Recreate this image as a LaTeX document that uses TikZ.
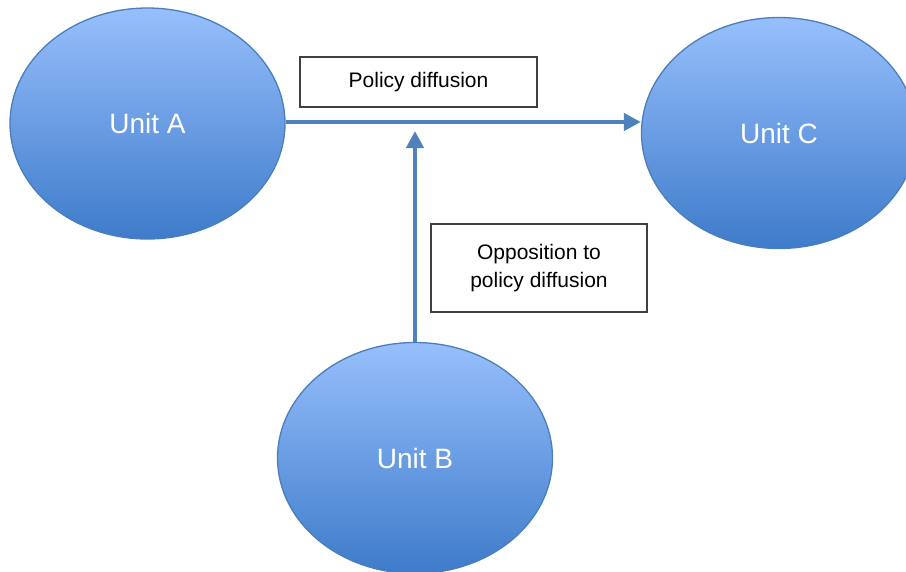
\documentclass[tikz,border=0pt]{standalone}
\usepackage{fontspec}
\setmainfont{Liberation Sans}
\usetikzlibrary{shapes.geometric,arrows.meta}
\definecolor{topblue}{HTML}{97BFFC}
\definecolor{botblue}{HTML}{3E7BCA}
\definecolor{edgeblue}{HTML}{4A7EBB}
\definecolor{arrblue}{HTML}{4F81BD}
\tikzset{
  unit/.style={ellipse, draw=edgeblue, line width=1.3pt, top color=topblue, bottom color=botblue,
    minimum width=275pt, minimum height=231pt, inner sep=0pt, text=white,
    font=\fontsize{28}{34}\selectfont},
  labelbox/.style={draw=black!75, line width=1.2pt, fill=white, inner sep=0pt, align=center,
    font=\fontsize{21}{28}\selectfont},
  flow/.style={draw=arrblue, line width=4.5pt, -{Triangle[length=17pt,width=17pt]}}
}
\begin{document}
\begin{tikzpicture}[x=1pt,y=-1pt]
\useasboundingbox (0,0) rectangle (906,571);
\clip (0,0) rectangle (906,571);
\node[unit] (A) at (147.5,123.5) {Unit A};
\node[unit] (C) at (779,133) {Unit C};
\node[unit] (B) at (415,458) {Unit B};
\node[labelbox, minimum width=237pt, minimum height=50pt] (pd) at (418.5,82) {Policy diffusion};
\node[labelbox, minimum width=216pt, minimum height=88pt] (opp) at (539,268) {Opposition to\\policy diffusion};
\coordinate (tipB) at (415,131);
\draw[flow] (A.east |- 0,122) -- (C.west |- 0,122);
\draw[flow] (B.north) -- (tipB);
\end{tikzpicture}
\end{document}
